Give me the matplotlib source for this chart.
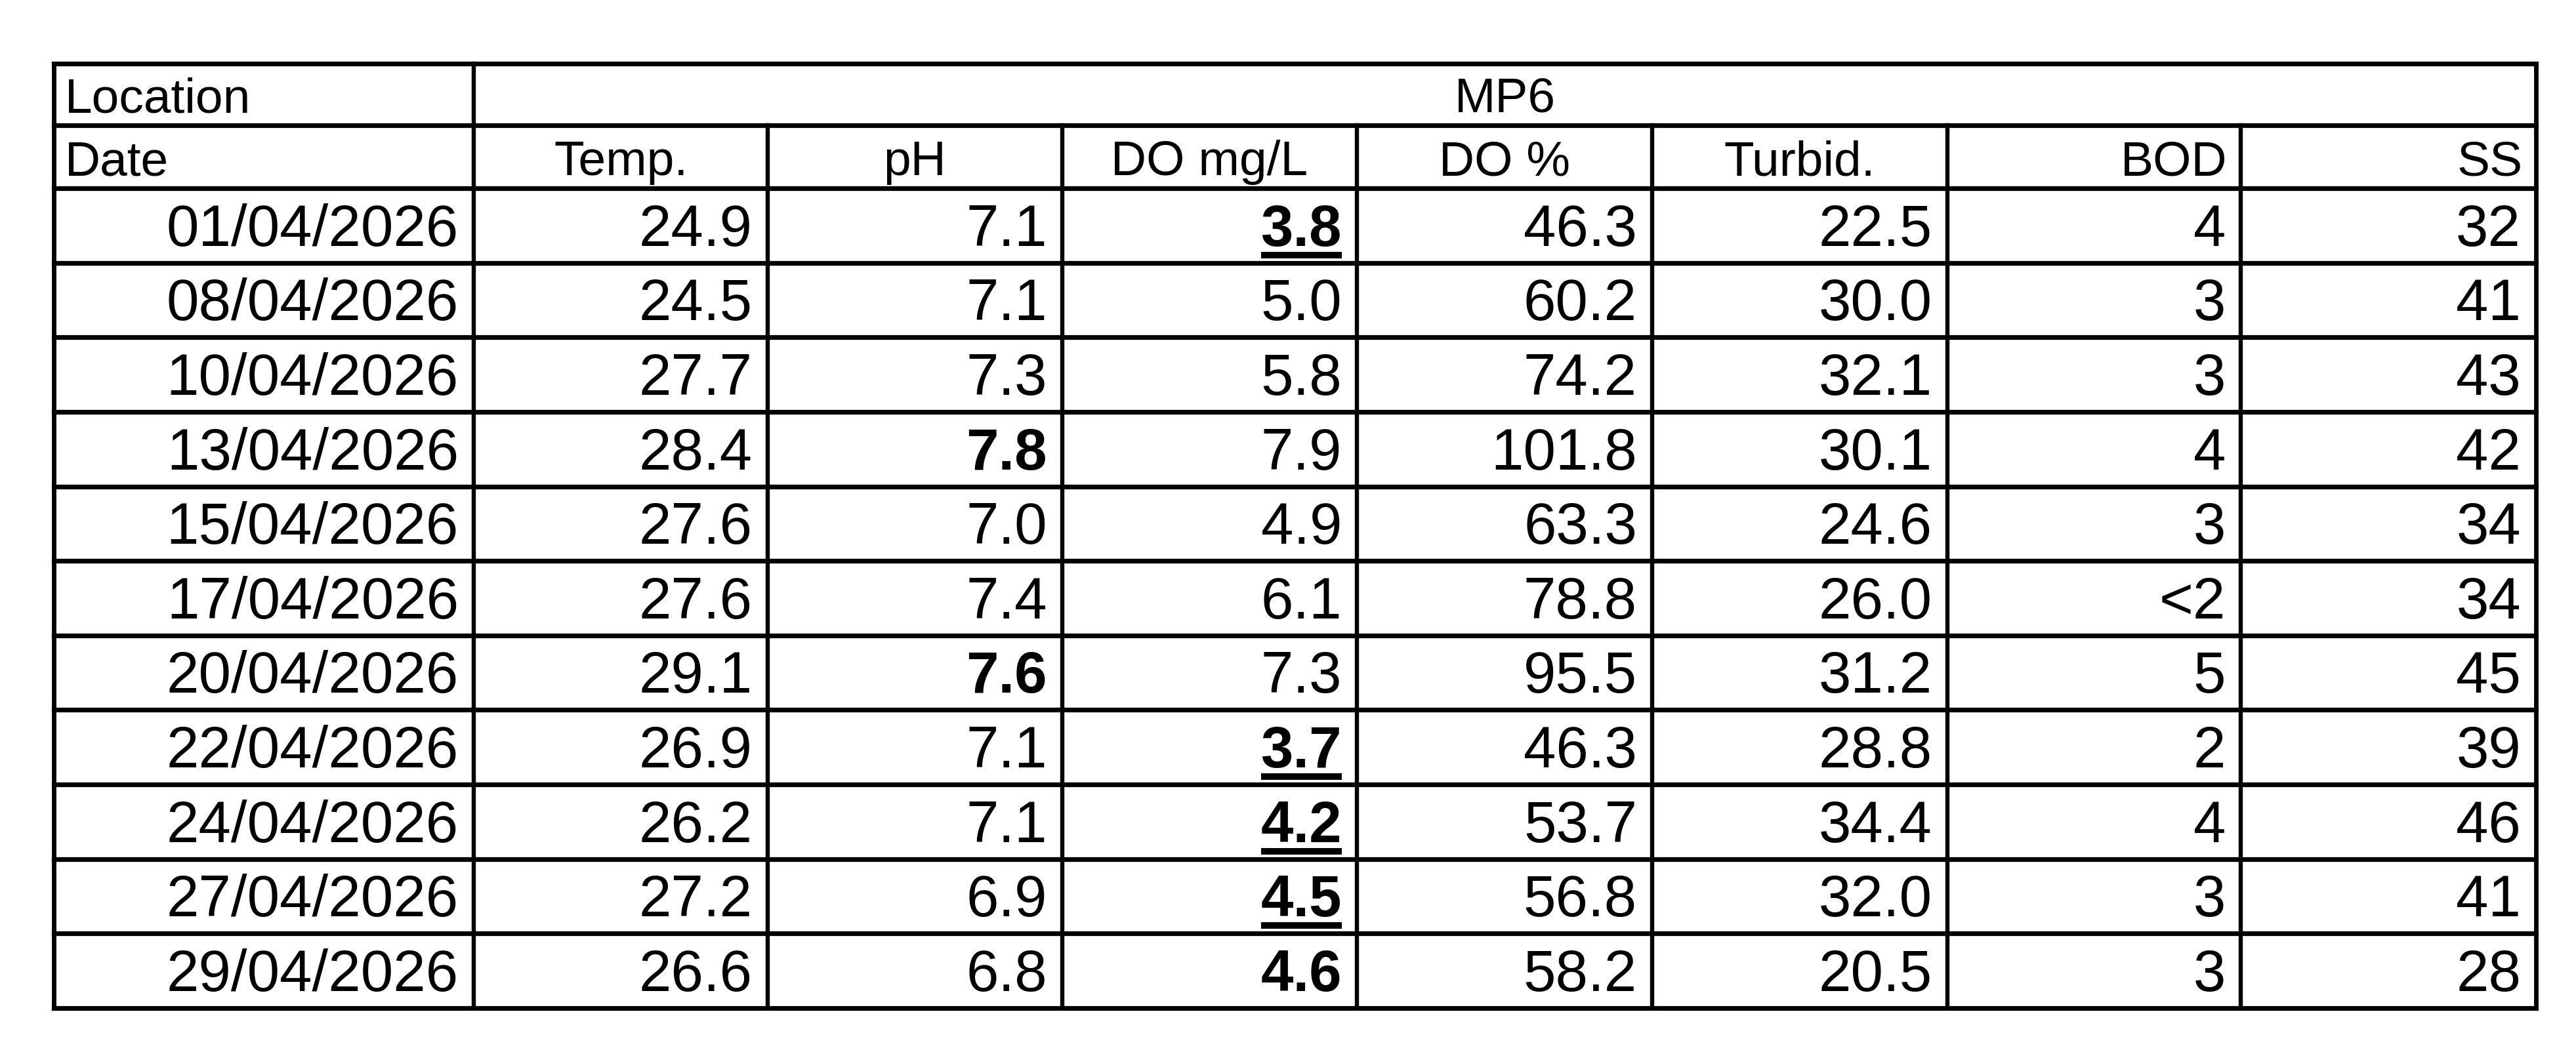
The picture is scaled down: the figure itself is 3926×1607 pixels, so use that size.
import matplotlib
matplotlib.use('Agg')
import matplotlib.pyplot as plt
from matplotlib.patches import Rectangle

W, H = 3926, 1608

location = "MP6"
headers = ["Temp.", "pH", "DO mg/L", "DO %", "Turbid.", "BOD", "SS"]
dates = ["01/04/2026", "08/04/2026", "10/04/2026", "13/04/2026", "15/04/2026",
         "17/04/2026", "20/04/2026", "22/04/2026", "24/04/2026", "27/04/2026",
         "29/04/2026"]
temp = [24.9, 24.5, 27.7, 28.4, 27.6, 27.6, 29.1, 26.9, 26.2, 27.2, 26.6]
ph = [7.1, 7.1, 7.3, 7.8, 7.0, 7.4, 7.6, 7.1, 7.1, 6.9, 6.8]
do_mgl = [3.8, 5.0, 5.8, 7.9, 4.9, 6.1, 7.3, 3.7, 4.2, 4.5, 4.6]
do_pct = [46.3, 60.2, 74.2, 101.8, 63.3, 78.8, 95.5, 46.3, 53.7, 56.8, 58.2]
turbid = [22.5, 30.0, 32.1, 30.1, 24.6, 26.0, 31.2, 28.8, 34.4, 32.0, 20.5]
bod = ["4", "3", "3", "4", "3", "<2", "5", "2", "4", "3", "3"]
ss = ["32", "41", "43", "42", "34", "34", "45", "39", "46", "41", "28"]

# highlighted cells (row indices)
ph_bold = [3, 6]
do_bold = [0, 7, 8, 9, 10]
do_underline = [0, 7, 8, 9]

# layout (pixels)
col_x = [82, 722, 1170, 1619, 2068, 2518, 2968, 3415, 3865]
top, loc_bot, hdr_bot, bottom = 98, 192, 288, 1538
n = len(dates)
row_h = (bottom - hdr_bot) / n
row_y = [hdr_bot + i * row_h for i in range(n + 1)]

plt.rcParams['font.family'] = ['Liberation Sans', 'DejaVu Sans']

fig = plt.figure(figsize=(W / 100, H / 100), dpi=100)
ax = fig.add_axes([0, 0, 1, 1])
ax.set_xlim(0, W)
ax.set_ylim(H, 0)
ax.axis('off')

hw = 5.2   # horizontal rule width (pt)
vw = 4.6   # vertical rule width (pt)
ow = 4.9   # outer border

# horizontal rules
for y in [top, loc_bot, hdr_bot] + row_y[1:-1] + [bottom]:
    ax.plot([col_x[0], col_x[-1]], [y, y], color='black', lw=hw,
            solid_capstyle='projecting')
# vertical rules
ax.plot([col_x[0], col_x[0]], [top, bottom], color='black', lw=ow,
        solid_capstyle='projecting')
ax.plot([col_x[-1], col_x[-1]], [top, bottom], color='black', lw=ow,
        solid_capstyle='projecting')
ax.plot([col_x[1], col_x[1]], [top, bottom], color='black', lw=vw)
for x in col_x[2:-1]:
    ax.plot([x, x], [loc_bot, bottom], color='black', lw=vw)

hfs = 54
dfs = 64

# header texts
ax.text(col_x[0] + 17, loc_bot - 20, "Location", fontsize=hfs, ha='left', va='baseline')
ax.text((col_x[1] + col_x[-1]) / 2, loc_bot - 20, location, fontsize=hfs,
        ha='center', va='baseline')
ax.text(col_x[0] + 17, hdr_bot - 21, "Date", fontsize=hfs, ha='left', va='baseline')
for j, h in enumerate(headers):
    left, right = col_x[j + 1], col_x[j + 2]
    if h in ("BOD", "SS"):
        ax.text(right - 20, hdr_bot - 21, h, fontsize=hfs, ha='right', va='baseline')
    else:
        ax.text((left + right) / 2, hdr_bot - 21, h, fontsize=hfs,
                ha='center', va='baseline')

# data cells
columns = [dates,
           [f"{v:.1f}" for v in temp],
           [f"{v:.1f}" for v in ph],
           [f"{v:.1f}" for v in do_mgl],
           [f"{v:.1f}" for v in do_pct],
           [f"{v:.1f}" for v in turbid],
           bod, ss]

renderer = fig.canvas.get_renderer()
underlines = []
for j, col in enumerate(columns):
    right = col_x[j + 1] - 23
    for i, val in enumerate(col):
        base = row_y[i + 1] - 27
        bold = (j == 2 and i in ph_bold) or (j == 3 and i in do_bold)
        t = ax.text(right, base, val, fontsize=dfs, ha='right', va='baseline',
                    fontweight='bold' if bold else 'normal')
        if j == 3 and i in do_underline:
            underlines.append((t, base))

for t, base in underlines:
    bb = t.get_window_extent(renderer)
    ax.add_patch(Rectangle((bb.x0, base + 10), bb.x1 - bb.x0, 10,
                           color='black', lw=0))

fig.savefig('out.png', dpi=100, facecolor='white')
